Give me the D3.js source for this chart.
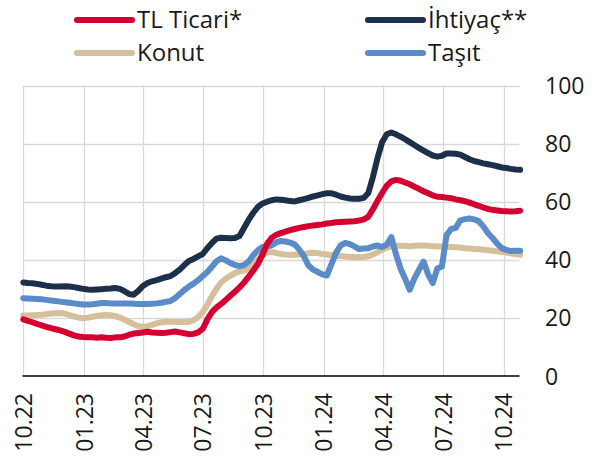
<!DOCTYPE html>
<html>
<head>
<meta charset="utf-8">
<script src="https://cdn.jsdelivr.net/npm/d3@7/dist/d3.min.js"></script>
<style>
  html, body { margin: 0; padding: 0; background: #fff; }
  svg { display: block; font-family: "Open Sans", "Noto Sans", sans-serif; }
</style>
</head>
<body>
<svg id="chart" width="597" height="457"></svg>
<script>
// ---- data (weekly, starting 2022-10-01) ----
const startDate = "2022-10-01";
const stepDays = 7;

const seriesNames = ["TL Ticari*", "İhtiyaç**", "Konut", "Taşıt"];

const tlTicari = [
  19.5,19.0,18.5,17.9,17.4,16.9,16.5,16.1,15.7,15.2,
  14.6,14.0,13.6,13.4,13.3,13.3,13.2,13.3,13.2,13.1,
  13.3,13.3,13.6,14.2,14.6,14.8,15.0,15.2,15.0,14.9,
  14.8,14.9,15.1,15.3,15.0,14.7,14.4,14.5,15.0,16.2,
  19.5,22.0,23.6,24.8,26.2,27.6,29.0,30.5,32.2,34.2,
  36.3,38.6,41.8,45.5,47.6,48.6,49.2,49.7,50.2,50.6,
  51.0,51.3,51.6,51.8,52.0,52.2,52.5,52.7,52.9,53.0,
  53.1,53.2,53.3,53.5,53.9,54.8,57.4,60.3,63.0,65.5,
  67.0,67.5,67.2,66.6,66.0,65.2,64.4,63.6,62.9,62.2,
  61.7,61.6,61.4,61.2,60.8,60.5,60.2,59.7,59.1,58.6,
  58.0,57.5,57.2,57.0,56.8,56.7,56.6,56.7,56.9
];

const ihtiyac = [
  32.2,32.0,31.9,31.7,31.4,31.1,30.9,30.8,30.8,30.9,
  30.8,30.6,30.3,30.0,29.8,29.7,29.8,29.9,30.0,30.1,
  30.3,30.0,29.2,28.2,28.0,29.3,31.0,32.0,32.6,33.0,
  33.5,34.0,34.4,35.4,36.6,38.2,39.6,40.3,41.2,42.0,
  44.0,45.8,47.3,47.6,47.5,47.4,47.5,48.2,51.0,53.8,
  56.2,58.2,59.4,60.0,60.5,60.8,60.7,60.5,60.2,60.1,
  60.5,60.9,61.3,61.8,62.2,62.6,62.9,62.9,62.4,61.8,
  61.4,61.1,61.0,61.0,61.3,63.0,68.5,75.0,80.5,83.2,
  83.8,83.2,82.4,81.5,80.5,79.5,78.5,77.6,76.7,75.9,
  75.5,75.8,76.6,76.6,76.5,76.2,75.4,74.6,74.0,73.6,
  73.2,72.9,72.6,72.2,71.8,71.6,71.3,71.1,71.0
];

const konut = [
  20.8,20.8,20.9,21.0,21.1,21.3,21.5,21.6,21.7,21.5,
  21.0,20.5,20.1,19.9,20.1,20.4,20.7,20.9,21.0,20.9,
  20.6,20.1,19.4,18.6,17.8,17.2,16.9,17.1,17.6,18.1,
  18.5,18.7,18.7,18.6,18.6,18.7,18.6,19.2,20.2,22.0,
  24.5,27.5,30.0,32.2,33.5,34.5,35.4,36.0,36.3,37.2,
  38.5,40.0,41.6,42.5,42.7,42.3,42.0,41.8,41.7,41.7,
  41.8,42.0,42.3,42.4,42.3,42.0,41.8,41.6,41.4,41.3,
  41.1,41.0,41.0,40.9,41.0,41.3,41.8,42.6,43.6,44.2,
  44.6,44.8,44.8,44.8,44.7,44.8,44.9,44.9,44.8,44.7,
  44.6,44.6,44.5,44.4,44.3,44.2,44.0,43.9,43.7,43.6,
  43.5,43.3,43.1,42.9,42.7,42.5,42.2,41.9,41.7
];

const tasit = [
  26.8,26.7,26.6,26.5,26.4,26.2,26.0,25.8,25.6,25.4,
  25.2,25.0,24.8,24.6,24.6,24.7,24.9,25.1,25.1,25.0,
  25.0,25.0,25.0,25.0,24.9,24.8,24.8,24.8,24.9,25.0,
  25.2,25.5,25.8,26.8,28.2,29.6,30.8,31.8,33.0,34.4,
  35.8,37.6,39.5,40.5,39.8,38.9,38.2,37.8,38.2,39.5,
  41.6,43.3,44.4,44.6,45.0,46.0,46.5,46.3,45.9,45.3,
  43.5,41.2,38.0,36.6,35.8,35.0,34.6,38.5,42.5,45.0,
  45.8,45.4,44.6,43.7,43.9,44.0,44.6,44.9,44.4,45.2,
  47.8,42.0,37.0,33.5,29.7,33.5,36.5,39.4,35.0,32.0,
  37.0,37.7,48.5,50.6,51.0,53.6,54.0,54.2,53.9,53.3,
  51.5,49.2,47.5,45.6,44.0,43.4,43.0,43.1,43.1
];

const yTicks = [0, 20, 40, 60, 80, 100];
const xTickDates = ["2022-10-01","2023-01-01","2023-04-01","2023-07-01","2023-10-01",
                    "2024-01-01","2024-04-01","2024-07-01","2024-10-01"];
const colors = ["#D50032", "#1C3049", "#D6BF9B", "#5B8BC9"];

// ---- build ----
const parse = d3.utcParse("%Y-%m-%d");
const t0 = parse(startDate);
const dates = tlTicari.map((_, i) => d3.utcDay.offset(t0, i * stepDays));
const allSeries = [tlTicari, ihtiyac, konut, tasit];

const svg = d3.select("#chart");
const x = d3.scaleUtc()
  .domain([parse("2022-10-01"), parse("2024-10-01")])
  .range([23.3, 503.7]);
const y = d3.scaleLinear().domain([0, 100]).range([376, 85.5]);
const plotRight = 519.5;
const textColor = "#1a1a1a";

// horizontal gridlines
svg.append("g").selectAll("line").data(yTicks.filter(d => d > 0)).join("line")
  .attr("x1", 23.3).attr("x2", plotRight)
  .attr("y1", d => Math.round(y(d)) + 0.5).attr("y2", d => Math.round(y(d)) + 0.5)
  .attr("stroke", "#d9d9d9").attr("stroke-width", 1.3);

// vertical gridlines
const xt = xTickDates.map(parse);
svg.append("g").selectAll("line").data(xt).join("line")
  .attr("x1", d => Math.round(x(d)) + 0.5).attr("x2", d => Math.round(x(d)) + 0.5)
  .attr("y1", y(100)).attr("y2", y(0))
  .attr("stroke", "#d9d9d9").attr("stroke-width", 1.3);

// y axis on the right (labels only)
const yAxis = d3.axisRight(y).tickValues(yTicks).tickSize(0).tickPadding(0);
const gy = svg.append("g").attr("transform", "translate(545,0)").call(yAxis);
gy.select(".domain").remove();
gy.selectAll("text").attr("font-size", 23).attr("fill", textColor)
  .attr("font-family", "'Open Sans', sans-serif").attr("dy", "0.35em").attr("x", 0);

// x axis
const xAxis = d3.axisBottom(x).tickValues(xt).tickSize(0).tickFormat(d3.utcFormat("%m.%y"));
const gx = svg.append("g").attr("transform", `translate(0,${y(0)})`).call(xAxis);
gx.select(".domain").remove();
gx.selectAll("text")
  .attr("font-size", 23).attr("fill", textColor)
  .attr("font-family", "'Open Sans', sans-serif")
  .attr("transform", "rotate(-90)")
  .attr("text-anchor", "end")
  .attr("x", -17).attr("y", 0).attr("dy", "0.36em");

// baseline
svg.append("line").attr("x1", 22.5).attr("x2", plotRight)
  .attr("y1", y(0)).attr("y2", y(0)).attr("stroke", "#000").attr("stroke-width", 1.5);

// lines
const line = d3.line().x((d, i) => x(dates[i])).y(d => y(d)).curve(d3.curveLinear);
const drawOrder = [2, 3, 0, 1];
drawOrder.forEach(si => {
  svg.append("path").datum(allSeries[si])
    .attr("d", line).attr("fill", "none")
    .attr("stroke", colors[si]).attr("stroke-width", 6)
    .attr("stroke-linejoin", "round").attr("stroke-linecap", "round");
});

// legend
const legendPos = [[77, 20], [368, 20], [77, 53], [368, 53]];
seriesNames.forEach((name, i) => {
  const [lx, ly] = legendPos[i];
  const g = svg.append("g");
  g.append("line").attr("x1", lx).attr("x2", lx + 55).attr("y1", ly).attr("y2", ly)
    .attr("stroke", colors[i]).attr("stroke-width", 6).attr("stroke-linecap", "round");
  g.append("text").attr("x", lx + 60).attr("y", ly).attr("dy", "0.35em")
    .attr("font-size", 24).attr("fill", textColor).text(name);
});
</script>
</body>
</html>
